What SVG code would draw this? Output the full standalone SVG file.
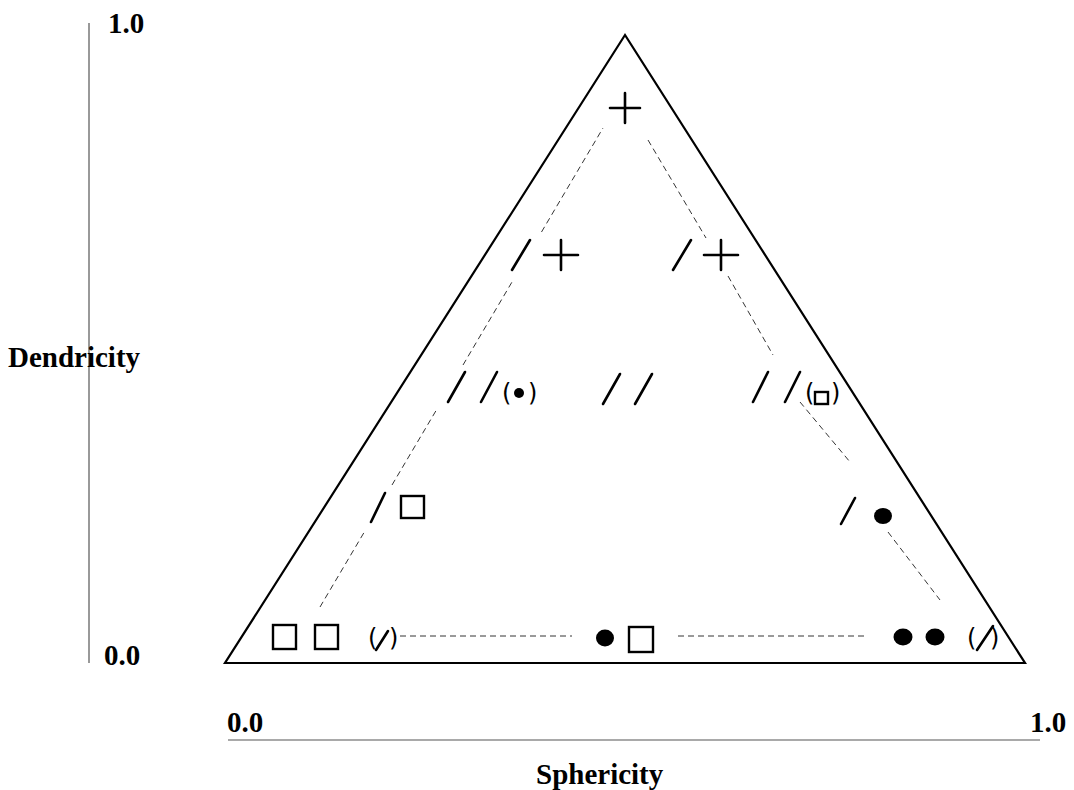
<svg xmlns="http://www.w3.org/2000/svg" width="1074" height="790" viewBox="0 0 1074 790">
<style>
.lbl{font-family:"Liberation Serif",serif;font-weight:bold;font-size:29px;fill:#000}
.ax{stroke:#555;stroke-width:1.2;fill:none}
.tri{stroke:#000;stroke-width:2.2;fill:none;stroke-linejoin:miter}
.sym{stroke:#000;stroke-width:2.6;fill:none;stroke-linecap:round}
.sq{stroke:#000;stroke-width:2.4;fill:none}
.dot{fill:#000}
.par{font-family:"DejaVu Sans",sans-serif;font-size:24px;fill:#000}
.dash{stroke:#000;stroke-width:0.8;stroke-dasharray:6 4;fill:none}
</style>
<rect width="1074" height="790" fill="#fff"/>
<g id="axes">
<line class="ax" x1="89" y1="23" x2="89" y2="663"/>
<line class="ax" x1="228" y1="740" x2="1040" y2="740"/>
<text class="lbl" x="108" y="33">1.0</text>
<text class="lbl" x="104" y="665">0.0</text>
<text class="lbl" x="8" y="367">Dendricity</text>
<text class="lbl" x="227" y="732">0.0</text>
<text class="lbl" x="1030" y="732">1.0</text>
<text class="lbl" x="536" y="784">Sphericity</text>
</g>
<g id="triangle">
<polygon class="tri" points="625,35 225,663 1025,663"/>
</g>
<g id="connectors">
<line class="dash" x1="320" y1="607" x2="365.5" y2="530"/>
<line class="dash" x1="392" y1="485" x2="436.4" y2="410"/>
<line class="dash" x1="463" y1="365" x2="512" y2="282"/>
<line class="dash" x1="541.5" y1="232" x2="603" y2="128"/>
<line class="dash" x1="648" y1="140" x2="706" y2="238"/>
<line class="dash" x1="728" y1="276" x2="773" y2="355"/>
<line class="dash" x1="800" y1="402" x2="850" y2="462"/>
<line class="dash" x1="888" y1="532" x2="940" y2="600"/>
<line class="dash" x1="400" y1="636" x2="572" y2="636"/>
<line class="dash" x1="678" y1="636" x2="866" y2="636"/>
</g>
<g id="n-apex">
<path class="sym" d="M610,108H640M625,93V123"/>
</g>
<g id="n-row2-left">
<path class="sym" d="M512,270L530,240"/>
<path class="sym" d="M544,255H578M561,240V270"/>
</g>
<g id="n-row2-right">
<path class="sym" d="M673,270L691,240"/>
<path class="sym" d="M704,255H738M721,240V270"/>
</g>
<g id="n-row3-left">
<path class="sym" d="M448,402L465,372M481,402L497,372"/>
<text class="par" x="502" y="401">(</text>
<circle class="dot" cx="519" cy="393" r="5"/>
<text class="par" x="528" y="401">)</text>
</g>
<g id="n-row3-mid">
<path class="sym" d="M603,404L620,374M635,404L652,374"/>
</g>
<g id="n-row3-right">
<path class="sym" d="M753,402L768,372M785,402L800,372"/>
<text class="par" x="805" y="401">(</text>
<rect class="sq" x="815" y="392" width="13" height="12"/>
<text class="par" x="831" y="401">)</text>
</g>
<g id="n-row4-left">
<path class="sym" d="M371,522L385,493"/>
<rect class="sq" x="401" y="496" width="23" height="22"/>
</g>
<g id="n-row4-right">
<path class="sym" d="M841,524L855,498"/>
<ellipse class="dot" cx="883" cy="516" rx="9" ry="8"/>
</g>
<g id="n-bottom-left">
<rect class="sq" x="273" y="625" width="23" height="24"/>
<rect class="sq" x="315" y="625" width="23" height="24"/>
<text class="par" x="368" y="646">(</text>
<path class="sym" d="M376,650L388,631"/>
<text class="par" x="389" y="646">)</text>
</g>
<g id="n-bottom-mid">
<ellipse class="dot" cx="605" cy="638" rx="9" ry="8.5"/>
<rect class="sq" x="629" y="627" width="24" height="25"/>
</g>
<g id="n-bottom-right">
<ellipse class="dot" cx="903" cy="637" rx="9.5" ry="8.5"/>
<ellipse class="dot" cx="935" cy="637" rx="9.5" ry="8.5"/>
<text class="par" x="967" y="646">(</text>
<path class="sym" d="M977,650L993,626"/>
<text class="par" x="990" y="646">)</text>
</g>
</svg>
